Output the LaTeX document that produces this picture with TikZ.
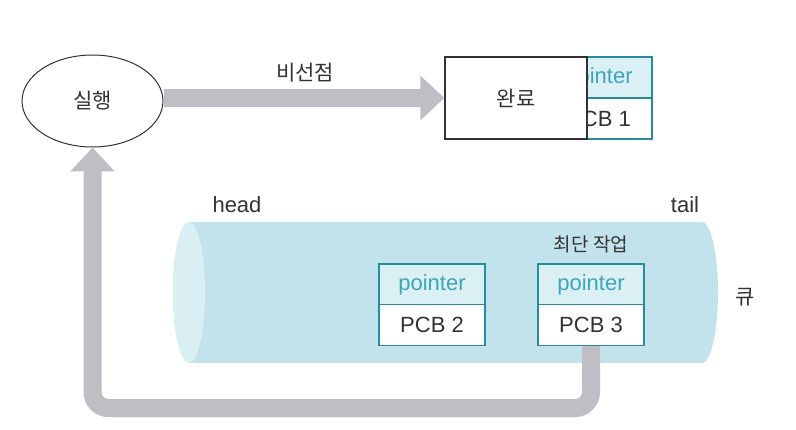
\documentclass[tikz,border=0pt]{standalone}
\usepackage{fontspec}
\setmainfont{Liberation Sans}
\newfontfamily\kr{Noto Sans CJK KR}
\usetikzlibrary{arrows.meta,shapes.geometric}
\definecolor{arrowgray}{RGB}{190,190,196}
\definecolor{cylbody}{RGB}{194,227,235}
\definecolor{cylend}{RGB}{218,239,244}
\definecolor{teal}{RGB}{38,140,156}
\definecolor{teallight}{RGB}{218,240,245}
\definecolor{ptrtext}{RGB}{60,165,185}
\definecolor{txt}{RGB}{50,50,50}
\tikzset{
  x=1pt, y=1pt,
  lbl/.style={font=\fontsize{22}{26}\selectfont, text=txt, inner sep=0},
  krlbl/.style={font=\kr\fontsize{21}{25}\selectfont, text=txt, inner sep=0},
  ptr/.style={draw=teal, line width=1.2pt, fill=teallight, minimum width=106pt, minimum height=41pt, inner sep=0,
     font=\fontsize{22}{26}\selectfont, text=ptrtext},
  pcb/.style={draw=teal, line width=1.2pt, fill=white, minimum width=106pt, minimum height=41pt, inner sep=0,
     font=\fontsize{22}{26}\selectfont, text=txt},
  bigarrow/.style={draw=arrowgray, line width=18pt, line cap=butt,
     -{Triangle[length=24pt, width=43pt]}},
}
\begin{document}
\begin{tikzpicture}
\useasboundingbox (0,0) rectangle (796,-430);
% queue cylinder
\fill[cylbody] (189,-222) -- (702,-222)
   arc[start angle=90, end angle=-90, x radius=16, y radius=70.5]
   -- (189,-363)
   arc[start angle=270, end angle=90, x radius=16, y radius=70.5] -- cycle;
\fill[cylend] (189,-292.5) ellipse[x radius=16, y radius=70.5];
% running state
\node[ellipse, draw=txt, line width=1pt, fill=white, minimum width=141pt, minimum height=92pt, inner sep=0,
   font=\kr\fontsize{21}{25}\selectfont, text=txt] (run) at (92.5,-101) {실행};
% finished PCB1 and box
\node[ptr] (ptr1) at (599,-77.5) {pointer};
\node[pcb] (pcb1) at (599,-118.5) {PCB 1};
\node[draw=txt, line width=1.2pt, fill=white, minimum width=142pt, minimum height=82pt, inner sep=0,
   font=\kr\fontsize{21}{25}\selectfont, text=txt] (done) at (516,-98) {완료};
% queued PCBs
\node[ptr] (ptr2) at (432,-284.5) {pointer};
\node[pcb] (pcb2) at (432,-325) {PCB 2};
\node[ptr] (ptr3) at (591,-284.5) {pointer};
\node[pcb] (pcb3) at (591,-325) {PCB 3};
% labels
\node[krlbl] (np) at (305,-73) {비선점};
\node[lbl] (head) at (237,-205) {head};
\node[lbl] (tail) at (685,-205) {tail};
\node[krlbl, font=\kr\fontsize{19}{23}\selectfont] (sjf) at (591,-244) {최단 작업};
\node[krlbl] (queue) at (745,-297) {큐};
% arrows
\draw[bigarrow] (run.east |- done.west) -- (done.west);
\draw[bigarrow, rounded corners=16pt] (pcb3.south) -- ++(0,-62) -| (run.south);
\end{tikzpicture}
\end{document}
